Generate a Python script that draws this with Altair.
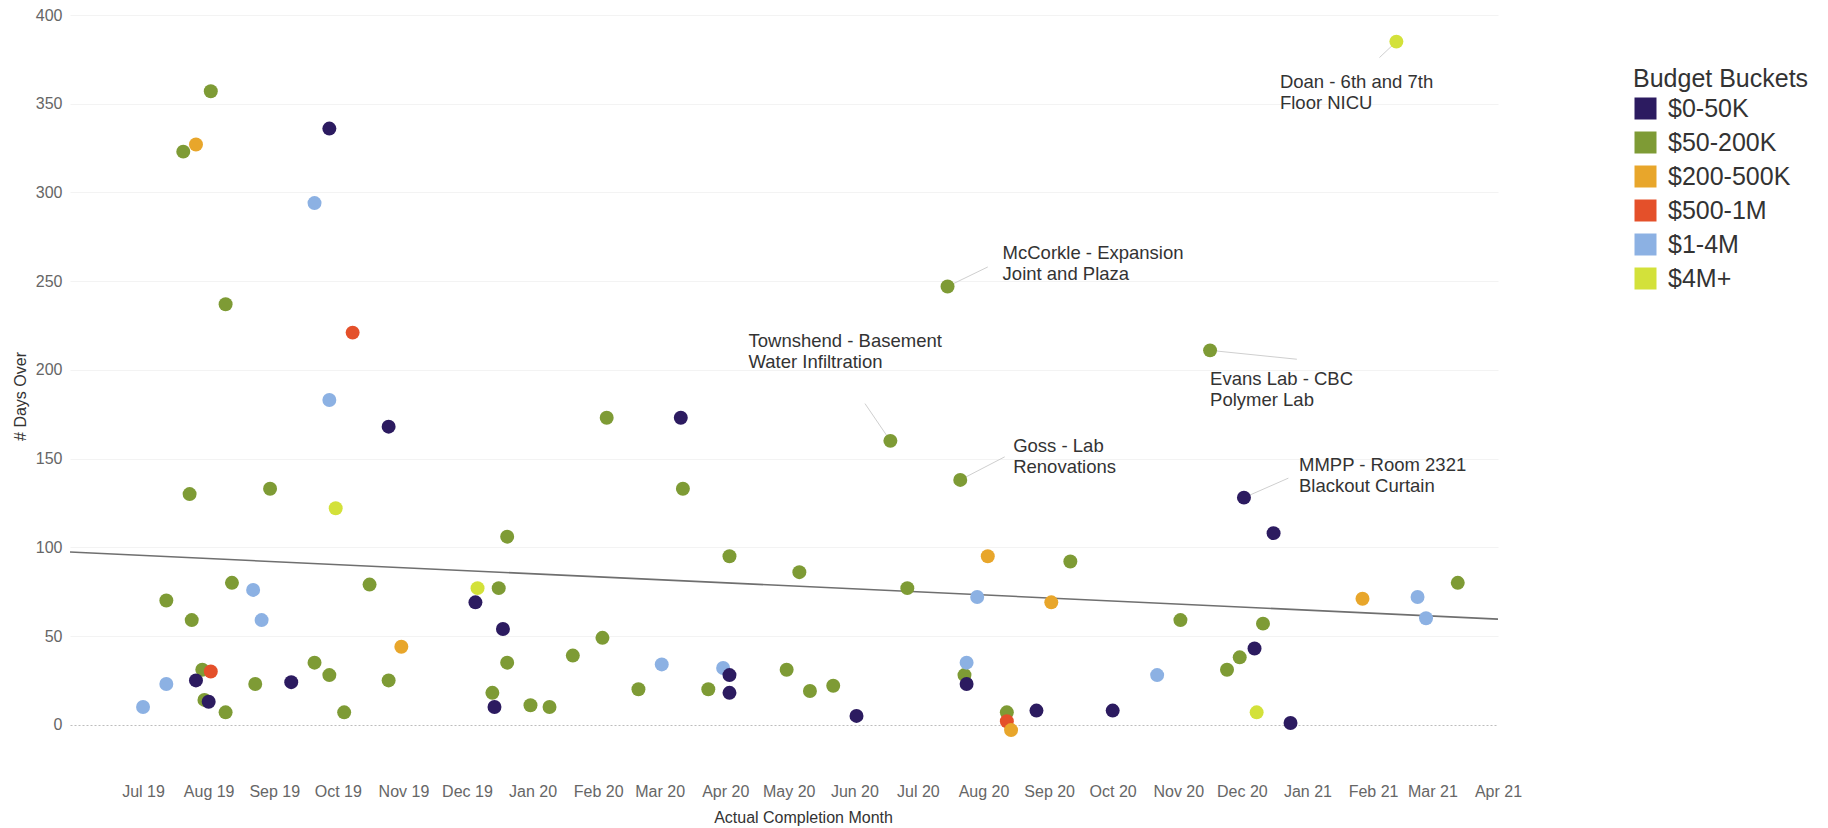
import altair as alt
import pandas as pd

# Completed projects: completion date, days past the planned finish, budget bucket
completion_dates = [
    "2019-07-01", "2019-07-12", "2019-07-12", "2019-07-20", "2019-07-23",
    "2019-07-24", "2019-07-26", "2019-07-29", "2019-07-26", "2019-07-30",
    "2019-08-01", "2019-08-02", "2019-08-02", "2019-08-09", "2019-08-09",
    "2019-08-12", "2019-08-22", "2019-08-23", "2019-08-26", "2019-08-30",
    "2019-09-09", "2019-09-20", "2019-09-20", "2019-09-27", "2019-09-27",
    "2019-09-27", "2019-09-30", "2019-10-04", "2019-10-08", "2019-10-16",
    "2019-10-25", "2019-10-25", "2019-10-31", "2019-12-05", "2019-12-06",
    "2019-12-13", "2019-12-14", "2019-12-16", "2019-12-18", "2019-12-20",
    "2019-12-20", "2019-12-31", "2020-01-09", "2020-01-20", "2020-02-03",
    "2020-02-05", "2020-02-20", "2020-03-02", "2020-03-11", "2020-03-12",
    "2020-03-24", "2020-03-31", "2020-04-03", "2020-04-03", "2020-04-03",
    "2020-04-30", "2020-05-06", "2020-05-11", "2020-05-22", "2020-06-02",
    "2020-06-18", "2020-06-26", "2020-07-15", "2020-07-21", "2020-07-23",
    "2020-07-24", "2020-07-24", "2020-07-29", "2020-08-03", "2020-08-12",
    "2020-08-12", "2020-08-14", "2020-08-26", "2020-09-02", "2020-09-11",
    "2020-10-01", "2020-10-22", "2020-11-02", "2020-11-16", "2020-11-24",
    "2020-11-30", "2020-12-02", "2020-12-07", "2020-12-08", "2020-12-11",
    "2020-12-16", "2020-12-24", "2021-01-27", "2021-02-12", "2021-02-22",
    "2021-02-26", "2021-03-13",
]
days_over = [
    10, 70, 23, 323, 130,
    59, 327, 31, 25, 14,
    13, 357, 30, 237, 7,
    80, 76, 23, 59, 133,
    24, 294, 35, 336, 183,
    28, 122, 7, 221, 79,
    168, 25, 44, 69, 77,
    18, 10, 77, 54, 106,
    35, 11, 10, 39, 49,
    173, 20, 34, 173, 133,
    20, 32, 95, 28, 18,
    31, 86, 19, 22, 5,
    160, 77, 247, 138, 28,
    35, 23, 72, 95, 7,
    2, -3, 8, 69, 92,
    8, 28, 59, 211, 31,
    38, 128, 43, 7, 57,
    108, 1, 71, 385, 72,
    60, 80,
]
budget_buckets = [
    "$1-4M", "$50-200K", "$1-4M", "$50-200K", "$50-200K",
    "$50-200K", "$200-500K", "$50-200K", "$0-50K", "$50-200K",
    "$0-50K", "$50-200K", "$500-1M", "$50-200K", "$50-200K",
    "$50-200K", "$1-4M", "$50-200K", "$1-4M", "$50-200K",
    "$0-50K", "$1-4M", "$50-200K", "$0-50K", "$1-4M",
    "$50-200K", "$4M+", "$50-200K", "$500-1M", "$50-200K",
    "$0-50K", "$50-200K", "$200-500K", "$0-50K", "$4M+",
    "$50-200K", "$0-50K", "$50-200K", "$0-50K", "$50-200K",
    "$50-200K", "$50-200K", "$50-200K", "$50-200K", "$50-200K",
    "$50-200K", "$50-200K", "$1-4M", "$0-50K", "$50-200K",
    "$50-200K", "$1-4M", "$50-200K", "$0-50K", "$0-50K",
    "$50-200K", "$50-200K", "$50-200K", "$50-200K", "$0-50K",
    "$50-200K", "$50-200K", "$50-200K", "$50-200K", "$50-200K",
    "$1-4M", "$0-50K", "$1-4M", "$200-500K", "$50-200K",
    "$500-1M", "$200-500K", "$0-50K", "$200-500K", "$50-200K",
    "$0-50K", "$1-4M", "$50-200K", "$50-200K", "$50-200K",
    "$50-200K", "$0-50K", "$0-50K", "$4M+", "$50-200K",
    "$0-50K", "$0-50K", "$200-500K", "$4M+", "$1-4M",
    "$1-4M", "$50-200K",
]

bucket_order = ["$0-50K", "$50-200K", "$200-500K", "$500-1M", "$1-4M", "$4M+"]
bucket_colors = ["#2c1b60", "#7e9b35", "#e8a62b", "#e4502a", "#8cb1e3", "#d3e13a"]

month_ticks = [
    "2019-07-01", "2019-08-01", "2019-09-01", "2019-10-01", "2019-11-01",
    "2019-12-01", "2020-01-01", "2020-02-01", "2020-03-01", "2020-04-01",
    "2020-05-01", "2020-06-01", "2020-07-01", "2020-08-01", "2020-09-01",
    "2020-10-01", "2020-11-01", "2020-12-01", "2021-01-01", "2021-02-01",
    "2021-03-01", "2021-04-01",
]
day_ticks = [0, 50, 100, 150, 200, 250, 300, 350, 400]

# Called-out projects: the point, where the note's first line sits, where its leader ends
callout_labels = [
    "Doan - 6th and 7th\nFloor NICU",
    "McCorkle - Expansion\nJoint and Plaza",
    "Townshend - Basement\nWater Infiltration",
    "Goss - Lab\nRenovations",
    "Evans Lab - CBC\nPolymer Lab",
    "MMPP - Room 2321\nBlackout Curtain",
]
callout_dates = ["2021-02-12", "2020-07-15", "2020-06-18", "2020-07-21", "2020-11-16", "2020-12-02"]
callout_days = [385, 247, 160, 138, 211, 128]
callout_text_dates = ["2020-12-19", "2020-08-10", "2020-04-12", "2020-08-15", "2020-11-16", "2020-12-28"]
callout_text_days = [362, 266, 216, 157, 195, 146.5]
callout_leader_dates = ["2021-02-04", "2020-08-03", "2020-06-06", "2020-08-11", "2020-12-27", "2020-12-23"]
callout_leader_days = [376, 258, 181, 151, 206, 139]

FONT = "Liberation Sans"

x_start = pd.Timestamp("2019-05-27 12:00", tz="UTC")
x_end = pd.Timestamp("2021-04-01", tz="UTC")


def utc_dt(ts):
    ts = pd.Timestamp(ts)
    return alt.DateTime(year=ts.year, month=ts.month, date=ts.day, hours=ts.hour, utc=True)


x_scale = alt.Scale(type="utc", domain=[utc_dt(x_start), utc_dt(x_end)])
y_scale = alt.Scale(domain=[-30, 400], nice=False, zero=False)

x_axis = alt.Axis(
    title="Actual Completion Month",
    values=[utc_dt(m) for m in month_ticks],
    format="%b %y",
    labelFlush=False,
    labelOverlap=False,
    grid=False,
    domain=False,
    ticks=False,
    tickSize=0,
    labelPadding=5,
    labelFontSize=16,
    labelColor="#666666",
    labelFont=FONT,
    titleFont=FONT,
    titleFontSize=16,
    titleFontWeight="normal",
    titleColor="#333333",
    titleX=733,
    titleY=39,
    titleBaseline="middle",
)
y_axis = alt.Axis(
    title="# Days Over",
    values=day_ticks,
    grid=True,
    gridColor=alt.condition("datum.value === 0", alt.value("#bdbdbd"), alt.value("#f3f3f3")),
    gridDash=alt.condition("datum.value === 0", alt.value([2, 2]), alt.value([])),
    domain=False,
    ticks=False,
    tickSize=0,
    labelPadding=8,
    labelFontSize=16,
    labelColor="#666666",
    labelFont=FONT,
    titleFont=FONT,
    titleFontSize=16,
    titleFontWeight="normal",
    titleColor="#333333",
    titleX=-50,
    titleY=381,
    titleAngle=270,
    titleAlign="center",
    titleBaseline="middle",
)

projects = pd.DataFrame({"date": completion_dates, "days": days_over, "bucket": budget_buckets})
callouts = pd.DataFrame({
    "label": callout_labels,
    "date": callout_dates,
    "days": callout_days,
    "text_date": callout_text_dates,
    "text_days": callout_text_days,
    "leader_date": callout_leader_dates,
    "leader_days": callout_leader_days,
})

extent_ms = [int(x_start.value // 10**6), int(x_end.value // 10**6)]

# Linear trend across the whole period
trend = (
    alt.Chart(projects)
    .transform_calculate(t="toDate(datum.date)")
    .transform_regression("t", "days", extent=extent_ms)
    .mark_line(color="#6f6f6f", strokeWidth=1.6)
    .encode(
        x=alt.X("t:T", scale=x_scale, axis=x_axis),
        y=alt.Y("days:Q", scale=y_scale, axis=y_axis),
    )
)

leaders = (
    alt.Chart(callouts)
    .mark_rule(color="#cfcfcf", strokeWidth=1)
    .encode(
        x=alt.X("date:T", scale=x_scale, axis=x_axis),
        y=alt.Y("days:Q", scale=y_scale, axis=y_axis),
        x2="leader_date:T",
        y2="leader_days:Q",
    )
)

points = (
    alt.Chart(projects)
    .mark_circle(size=195, opacity=1)
    .encode(
        x=alt.X("date:T", scale=x_scale, axis=x_axis),
        y=alt.Y("days:Q", scale=y_scale, axis=y_axis),
        color=alt.Color(
            "bucket:N",
            scale=alt.Scale(domain=bucket_order, range=bucket_colors),
            legend=alt.Legend(
                title="Budget Buckets",
                orient="none",
                legendX=1563,
                legendY=52,
                padding=0,
                symbolType="square",
                symbolSize=484,
                symbolStrokeWidth=0,
                symbolOpacity=1,
                titleFont=FONT,
                titleFontSize=25,
                titleFontWeight="normal",
                titleColor="#333333",
                titlePadding=4,
                labelFont=FONT,
                labelFontSize=25,
                labelColor="#333333",
                labelOffset=10,
                rowPadding=8,
            ),
        ),
    )
)

notes = (
    alt.Chart(callouts)
    .mark_text(align="left", baseline="middle", lineBreak="\n", fontSize=18.5,
               lineHeight=21, color="#333333", font=FONT)
    .encode(
        x=alt.X("text_date:T", scale=x_scale, axis=x_axis),
        y=alt.Y("text_days:Q", scale=y_scale, axis=y_axis),
        text="label:N",
    )
)

chart = (
    alt.layer(leaders, trend, points, notes)
    .properties(
        width=1428,
        height=763,
        autosize=alt.AutoSizeParams(type="none"),
        padding={"left": 70, "top": 15, "right": 330, "bottom": 50},
        background="white",
    )
    .configure(font=FONT)
    .configure_view(stroke=None)
)

chart.save("out.html", embed_options={"renderer": "svg", "actions": False})
